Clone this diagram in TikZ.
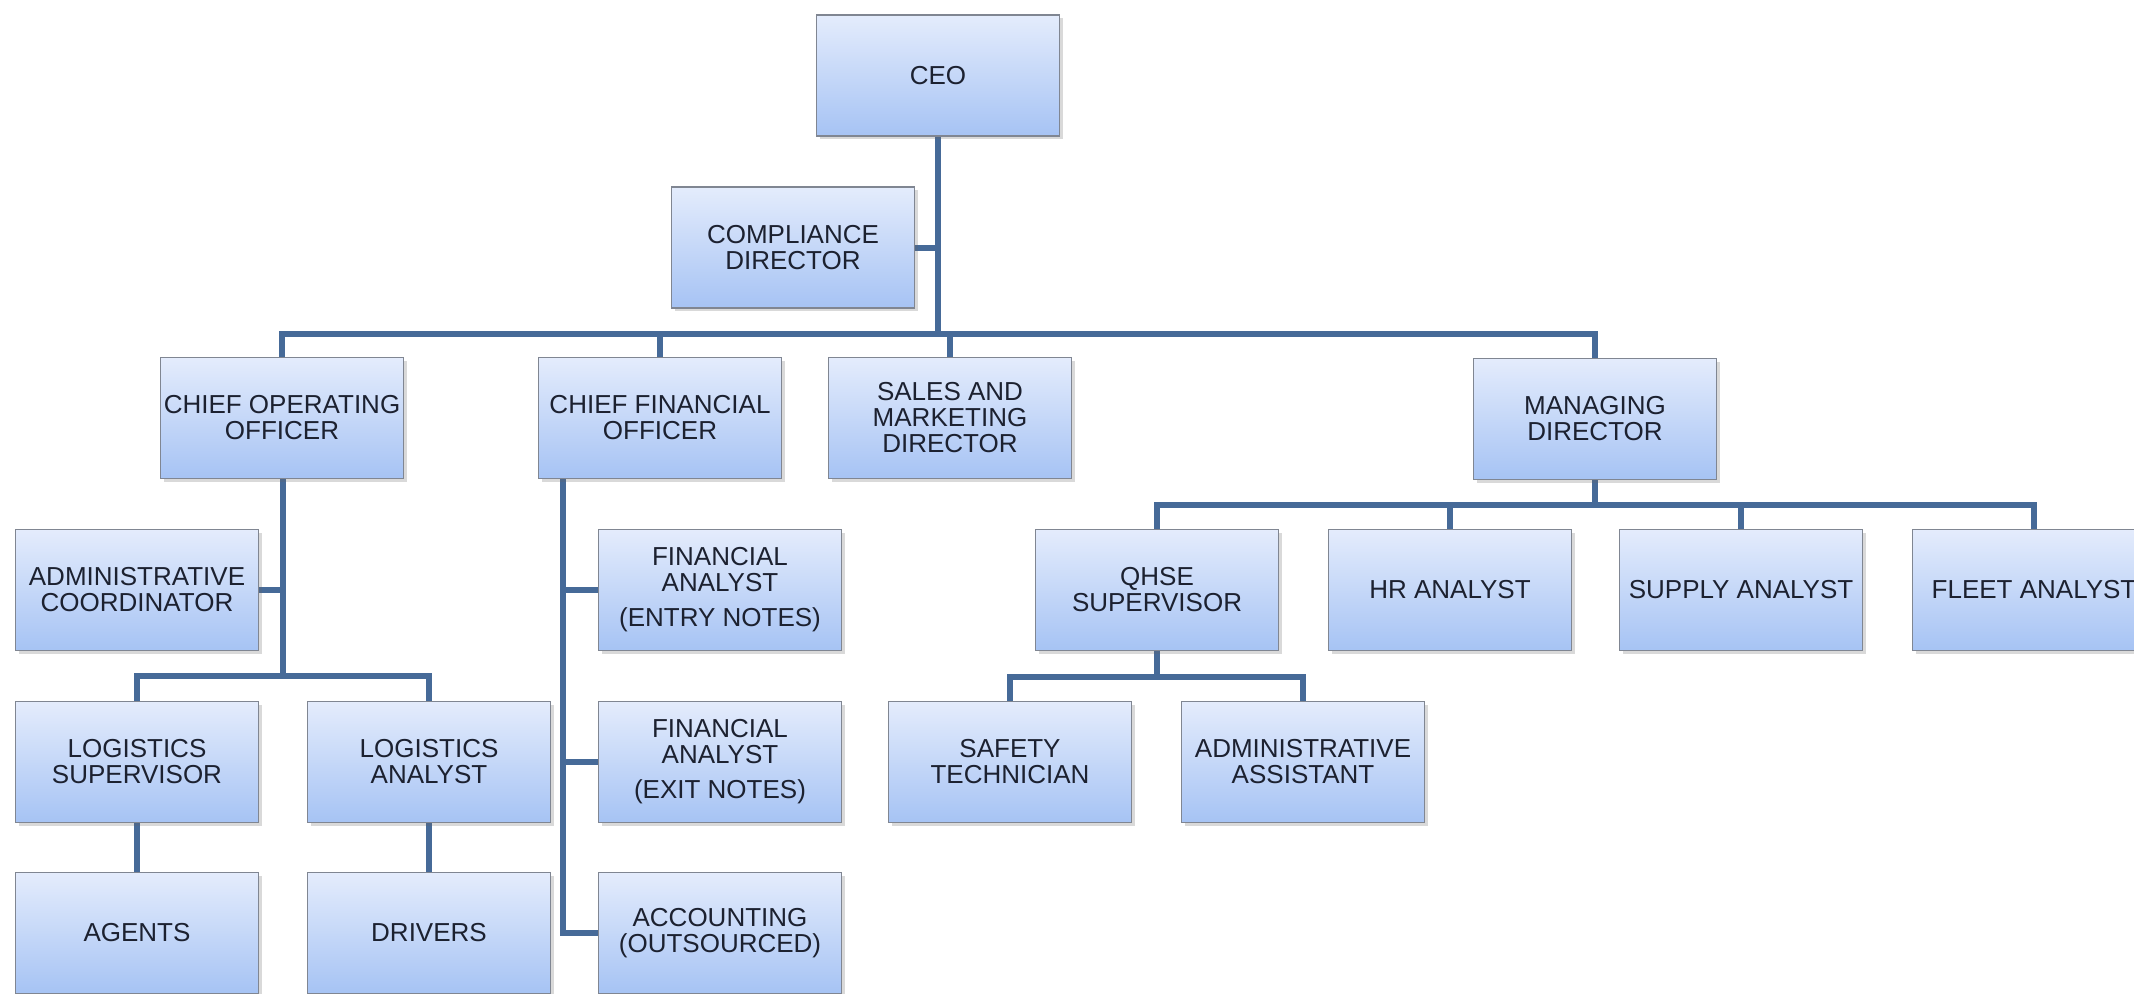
\documentclass[tikz,border=0pt]{standalone}
\usepackage{fontspec}
\setmainfont{Liberation Sans}
\usetikzlibrary{
    positioning,
    backgrounds,
    shadows
    }

\definecolor{boxtop}{RGB}{228,236,252}
\definecolor{boxbottom}{RGB}{166,195,244}
\definecolor{boxedge}{RGB}{128,134,146}
\definecolor{linkblue}{RGB}{70,106,152}
\definecolor{ink}{RGB}{28,33,48}

\begin{document}
\begin{tikzpicture}[x=0.5pt, y=-0.5pt]
\tikzset{orgbox/.style =
        {
            rectangle,
            draw=boxedge,
            line width=0.8pt,
            top color=boxtop,
            bottom color=boxbottom,
            minimum width=121.5pt,
            minimum height=60.5pt,
            inner sep=0pt,
            align=center,
            text=ink,
            font=\fontsize{13}{13}\selectfont,
            drop shadow={shadow xshift=1.5pt, shadow yshift=-1.5pt, opacity=0.25, fill=black!60}
        }
}

\tikzset{link/.style =
        {
            line width=3pt,
            linkblue,
            line join=miter
        }
}
		\useasboundingbox (0,0) rectangle (2134,993);

		\foreach \name / \x / \y / \label in
			{ceo/938/75.5/{CEO},
				compliance/793/247.5/{COMPLIANCE\\DIRECTOR},
				coo/282/418/{CHIEF OPERATING\\OFFICER},
				cfo/660/418/{CHIEF FINANCIAL\\OFFICER},
				sales/950/418/{SALES AND\\MARKETING\\DIRECTOR},
				md/1595/419/{MANAGING\\DIRECTOR},
				admin-coord/137/590/{ADMINISTRATIVE\\COORDINATOR},
				fin-entry/720/590/{FINANCIAL\\ANALYST\\[4.5pt](ENTRY NOTES)},
				fin-exit/720/762/{FINANCIAL\\ANALYST\\[4.5pt](EXIT NOTES)},
				accounting/720/933/{ACCOUNTING\\(OUTSOURCED)},
				qhse/1157/590/{QHSE\\SUPERVISOR},
				hr/1450/590/{HR ANALYST},
				supply/1741/590/{SUPPLY ANALYST},
				fleet/2034/590/{FLEET ANALYST},
				log-sup/137/762/{LOGISTICS\\SUPERVISOR},
				log-anl/429/762/{LOGISTICS\\ANALYST},
				safety/1010/762/{SAFETY\\TECHNICIAN},
				admin-asst/1303/762/{ADMINISTRATIVE\\ASSISTANT},
				agents/137/933/{AGENTS},
				drivers/429/933/{DRIVERS}}
		\node[orgbox] at (\x,\y) (\name) {\label};

		\coordinate (bus-top) at (938,334);
		\coordinate (bus-coo) at (283,676);
		\coordinate (leg-cfo) at (563,479);
		\coordinate (bus-md) at (1595,505);
		\coordinate (bus-qhse) at (1157,677);

		\begin{scope}[on background layer]
			\draw [link] (ceo.south -| bus-top) -- (bus-top);
			\draw [link] (compliance.east) -- (compliance.east -| bus-top);
			\foreach \child in {coo, cfo, sales, md}
			\draw [link] (bus-top) -| (\child.north);

			\draw [link] (coo.south -| bus-coo) -- (bus-coo);
			\draw [link] (admin-coord.east) -- (admin-coord.east -| bus-coo);
			\foreach \start / \finish in
				{log-sup/agents,
					log-anl/drivers}
				{
					\draw [link] (bus-coo) -| (\start.north);
					\draw [link] (\start) -- (\finish);
				}

			\foreach \child in {fin-entry, fin-exit, accounting}
			\draw [link] (leg-cfo) |- (\child.west);

			\draw [link] (md.south) -- (bus-md);
			\foreach \child in {qhse, hr, supply, fleet}
			\draw [link] (bus-md) -| (\child.north);

			\draw [link] (qhse.south) -- (bus-qhse);
			\foreach \child in {safety, admin-asst}
			\draw [link] (bus-qhse) -| (\child.north);
		\end{scope}

	\end{tikzpicture}
\end{document}
